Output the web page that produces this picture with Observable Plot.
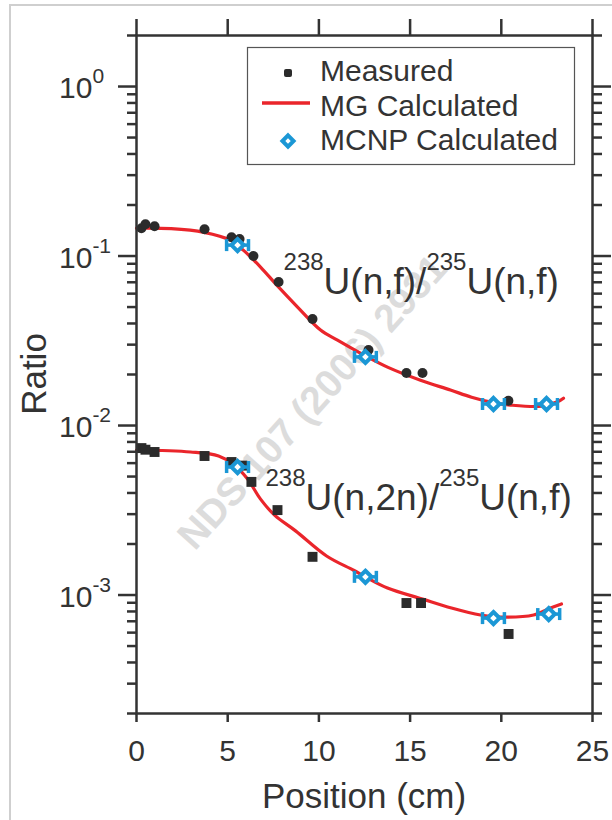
<!DOCTYPE html>
<html><head><meta charset="utf-8">
<script src="https://cdn.jsdelivr.net/npm/d3@7"></script>
<script src="https://cdn.jsdelivr.net/npm/@observablehq/plot@0.6"></script>
<style>
html,body{margin:0;padding:0;background:#fff;}
#wrap{position:relative;width:612px;height:820px;overflow:hidden;font-family:"Liberation Sans",Arial,sans-serif;}
#border{position:absolute;left:9px;top:4px;right:-10px;bottom:-10px;border-left:2px solid #cfcfcf;border-top:2px solid #cfcfcf;pointer-events:none;}
#wrap svg{position:absolute;left:0;top:0;}
</style></head><body><div id="wrap"><div id="border"></div></div>
<script>
// ---- data ----
const fissionMeasPos   = [0.27, 0.49, 0.99, 3.73, 5.21, 5.65, 6.41, 7.79, 9.65, 12.72, 14.8, 15.68, 20.39];
const fissionMeasRatio = [0.146, 0.154, 0.150, 0.144, 0.129, 0.126, 0.100, 0.0703, 0.0425, 0.0279, 0.0204, 0.0204, 0.0140];
const n2nMeasPos   = [0.27, 0.49, 0.99, 3.73, 5.21, 5.8, 6.30, 7.73, 9.65, 14.8, 15.6, 20.4];
const n2nMeasRatio = [0.00736, 0.0072, 0.00698, 0.00661, 0.00609, 0.0058, 0.00465, 0.00317, 0.00168, 0.000897, 0.000897, 0.000589];

const fissionMgPos   = [0, 1.9, 3.7, 5.15, 5.87, 6.8, 7.73, 8.83, 10.09, 11.02, 12.45, 13.76, 15.57, 17.21, 18.37, 19.63, 20.5, 22.2, 23.08, 23.41];
const fissionMgRatio = [0.146, 0.145, 0.138, 0.124, 0.108, 0.0861, 0.0666, 0.0500, 0.0366, 0.0319, 0.0261, 0.0221, 0.0185, 0.0162, 0.0147, 0.0136, 0.0132, 0.0130, 0.0138, 0.0145];
const n2nMgPos   = [0, 2.96, 4.5, 5.37, 6.09, 6.8, 7.57, 8.72, 10.42, 11.9, 12.66, 13.76, 15.68, 17.27, 18.86, 19.96, 21.77, 22.7, 23.3];
const n2nMgRatio = [0.00717, 0.00698, 0.00661, 0.00585, 0.00483, 0.00368, 0.00296, 0.00239, 0.00170, 0.00140, 0.00126, 0.00110, 0.000946, 0.000838, 0.000762, 0.000741, 0.000762, 0.000838, 0.000885];

const fissionMcnpPos   = [5.54, 12.55, 19.57, 22.48];
const fissionMcnpRatio = [0.116, 0.0254, 0.0134, 0.0134];
const n2nMcnpPos   = [5.54, 12.55, 19.57, 22.6];
const n2nMcnpRatio = [0.00569, 0.00128, 0.000731, 0.000772];
const mcnpPosErr   = [0.6, 0.6, 0.6, 0.6];

const xTicks = [0, 5, 10, 15, 20, 25];
const yMajorTicks = [1, 0.1, 0.01, 0.001];
const yTickExponents = ["0", "-1", "-2", "-3"];
const legendLabels = ["Measured", "MG Calculated", "MCNP Calculated"];
const watermark = "NDS 107 (2006) 2931";

// ---- build tables ----
const zip = (xs, ys, extra) => xs.map((x, i) => ({x, y: ys[i], e: extra ? extra[i] : 0}));
const fMeas = zip(fissionMeasPos, fissionMeasRatio);
const nMeas = zip(n2nMeasPos, n2nMeasRatio);
const fMg = zip(fissionMgPos, fissionMgRatio);
const nMg = zip(n2nMgPos, n2nMgRatio);
const mcnp = zip(fissionMcnpPos, fissionMcnpRatio, mcnpPosErr).concat(zip(n2nMcnpPos, n2nMcnpRatio, mcnpPosErr));
const caps = mcnp.flatMap(d => [{x: d.x - d.e, y: d.y}, {x: d.x + d.e, y: d.y}]);
const minorTicks = [];
for (let p = -4; p <= 0; p++) for (let m = 2; m <= 9; m++) { const v = m * Math.pow(10, p); if (v >= 2e-4 - 1e-12 && v <= 2 + 1e-9) minorTicks.push(v); }

const RED = "#ea252b", BLUE = "#1b97d5", INK = "#2b2b2b", AX = "#333";
const capSymbol = {draw(ctx, size) { const h = 6; ctx.moveTo(0, -h); ctx.lineTo(0, h); }};
const FONT = '"Liberation Sans", Arial, sans-serif';

const chart = Plot.plot({
  width: 612, height: 820,
  marginLeft: 136, marginRight: 20, marginTop: 35, marginBottom: 107,
  style: {fontFamily: FONT, background: "transparent", color: AX, overflow: "visible"},
  x: {domain: [0, 25], axis: null},
  y: {type: "log", domain: [2e-4, 2], axis: null},
  marks: [
    Plot.text([watermark], {frameAnchor: "middle", dx: -52, dy: 28, rotate: -48, text: d => d, fontSize: 39, fontWeight: "bold", fill: "#dcdcdc"}),
    Plot.line(fMg, {x: "x", y: "y", curve: "catmull-rom", stroke: RED, strokeWidth: 3.2}),
    Plot.line(nMg, {x: "x", y: "y", curve: "catmull-rom", stroke: RED, strokeWidth: 3.2}),
    Plot.dot(fMeas, {x: "x", y: "y", r: 5, fill: INK, stroke: "none"}),
    Plot.dot(nMeas, {x: "x", y: "y", r: 5.6, symbol: "square", fill: INK, stroke: "none"}),
    Plot.ruleY(mcnp, {y: "y", x1: d => d.x - d.e, x2: d => d.x + d.e, stroke: BLUE, strokeWidth: 3.5}),
    Plot.dot(caps, {x: "x", y: "y", symbol: capSymbol, stroke: BLUE, strokeWidth: 3.5}),
    Plot.dot(mcnp, {x: "x", y: "y", r: 5.5, symbol: "diamond2", stroke: BLUE, strokeWidth: 4, fill: "white"}),
    Plot.frame({stroke: AX, strokeWidth: 2.5}),
    Plot.axisX({anchor: "bottom", ticks: xTicks, tickSize: 9, tickPadding: 17, tickFormat: d => String(d), fontSize: 30, label: null, strokeWidth: 2.5, color: AX}),
    Plot.axisX({anchor: "top", ticks: xTicks, tickSize: 17, tickFormat: () => "", label: null, strokeWidth: 2.5, color: AX}),
    Plot.axisY({anchor: "left", ticks: yMajorTicks, tickSize: 18, tickFormat: () => "", label: null, strokeWidth: 2.5, color: AX}),
    Plot.axisY({anchor: "left", ticks: minorTicks, tickSize: 9, tickFormat: () => "", label: null, strokeWidth: 2.5, color: AX}),
    Plot.axisY({anchor: "right", ticks: yMajorTicks, tickSize: 18, tickFormat: () => "", label: null, strokeWidth: 2.5, color: AX}),
    Plot.axisY({anchor: "right", ticks: minorTicks, tickSize: 9, tickFormat: () => "", label: null, strokeWidth: 2.5, color: AX})
  ]
});
document.getElementById("wrap").appendChild(chart);

const svg = d3.select(chart);
const sx = chart.scale("x"), sy = chart.scale("y");
const txt = (sel) => sel.attr("font-family", FONT).attr("fill", AX).attr("text-anchor", "start");

// y tick labels with superscripts
yMajorTicks.forEach((v, i) => {
  const y = sy.apply(v);
  const t = txt(svg.append("text")).attr("x", 59).attr("y", y + 12).attr("font-size", 30);
  t.append("tspan").text("10");
  t.append("tspan").attr("dy", -15).attr("font-size", 21).text(yTickExponents[i]);
});

// axis titles
txt(svg.append("text")).attr("transform", "translate(46,374) rotate(-90)").attr("text-anchor", "middle")
  .attr("font-size", 35).text("Ratio");
txt(svg.append("text")).attr("x", 364).attr("y", 808).attr("text-anchor", "middle")
  .attr("font-size", 35).text("Position (cm)");

// reaction annotations
function annotate(xv, yv, parts) {
  const t = txt(svg.append("text")).attr("x", sx.apply(xv)).attr("y", sy.apply(yv));
  let raised = false;
  parts.forEach(([s, sup]) => {
    const ts = t.append("tspan").text(s).attr("font-size", sup ? 24 : 37);
    if (sup && !raised) { ts.attr("dy", -24); raised = true; }
    else if (!sup && raised) { ts.attr("dy", 24); raised = false; }
  });
}
annotate(8.09, 0.0589, [["238", true], ["U(n,f)/", false], ["235", true], ["U(n,f)", false]]);
annotate(7.10, 0.00317, [["238", true], ["U(n,2n)/", false], ["235", true], ["U(n,f)", false]]);

// legend
const lg = svg.append("g");
lg.append("rect").attr("x", 247.5).attr("y", 47.5).attr("width", 327).attr("height", 117).attr("fill", "white").attr("stroke", "#555").attr("stroke-width", 1.2);
lg.append("rect").attr("x", 284).attr("y", 69).attr("width", 8).attr("height", 8).attr("rx", 2).attr("fill", INK);
lg.append("line").attr("x1", 262).attr("x2", 310).attr("y1", 103).attr("y2", 103).attr("stroke", RED).attr("stroke-width", 3.5);
lg.append("path").attr("d", d3.symbol(d3.symbolDiamond2, Math.PI * 5 * 5)()).attr("transform", "translate(288,141)")
  .attr("fill", "white").attr("stroke", BLUE).attr("stroke-width", 4);
[81, 116, 150].forEach((y, i) => {
  txt(lg.append("text")).attr("x", 320).attr("y", y).attr("font-size", 30).text(legendLabels[i]);
});
</script></body></html>
